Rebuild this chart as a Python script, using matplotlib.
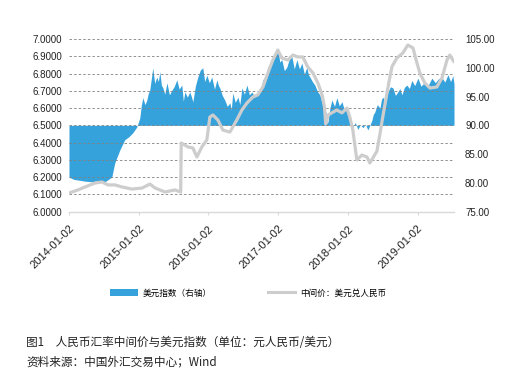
import pandas as pd
import matplotlib
matplotlib.use('Agg')
import matplotlib.pyplot as plt
from matplotlib.patches import Patch
from matplotlib.lines import Line2D


# 美元指数 (right axis)
usd_dates = ['2014-01-02', '2014-01-28', '2014-02-18', '2014-03-27', '2014-05-02',
             '2014-06-07', '2014-07-09', '2014-08-14', '2014-08-30', '2014-09-25',
             '2014-10-21', '2014-11-11', '2014-12-02', '2014-12-23', '2015-01-08',
             '2015-01-16', '2015-01-24', '2015-02-04', '2015-02-14', '2015-02-21',
             '2015-03-01', '2015-03-09', '2015-03-17', '2015-03-27', '2015-04-07',
             '2015-04-15', '2015-04-23', '2015-05-01', '2015-05-09', '2015-05-19',
             '2015-05-30', '2015-06-12', '2015-06-25', '2015-07-08', '2015-07-21',
             '2015-08-02', '2015-08-16', '2015-08-24', '2015-09-01', '2015-09-14',
             '2015-09-27', '2015-10-05', '2015-10-13', '2015-10-26', '2015-11-08',
             '2015-11-21', '2015-12-04', '2015-12-14', '2015-12-25', '2016-01-07',
             '2016-01-20', '2016-02-03', '2016-02-16', '2016-02-24', '2016-03-02',
             '2016-03-15', '2016-03-28', '2016-04-10', '2016-04-24', '2016-05-01',
             '2016-05-09', '2016-05-22', '2016-06-05', '2016-06-15', '2016-06-26',
             '2016-07-09', '2016-07-22', '2016-08-04', '2016-08-17', '2016-09-01',
             '2016-09-17', '2016-09-30', '2016-10-14', '2016-10-27', '2016-11-09',
             '2016-11-22', '2016-12-05', '2016-12-18', '2016-12-31', '2017-01-10',
             '2017-01-21', '2017-02-03', '2017-02-16', '2017-03-01', '2017-03-15',
             '2017-03-27', '2017-04-10', '2017-04-23', '2017-05-06', '2017-05-19',
             '2017-06-01', '2017-06-09', '2017-06-17', '2017-06-30', '2017-07-13',
             '2017-07-26', '2017-08-08', '2017-08-20', '2017-09-03', '2017-09-11',
             '2017-09-19', '2017-09-30', '2017-10-10', '2017-10-24', '2017-11-05',
             '2017-11-18', '2017-12-02', '2017-12-15', '2017-12-28', '2018-01-05',
             '2018-01-12', '2018-01-20', '2018-01-28', '2018-02-10', '2018-02-23',
             '2018-03-08', '2018-03-22', '2018-04-03', '2018-04-17', '2018-04-27',
             '2018-05-08', '2018-05-15', '2018-05-23', '2018-06-05', '2018-06-19',
             '2018-06-27', '2018-07-04', '2018-07-18', '2018-07-31', '2018-08-13',
             '2018-08-26', '2018-09-08', '2018-09-21', '2018-10-01', '2018-10-12',
             '2018-10-25', '2018-11-07', '2018-11-20', '2018-12-03', '2018-12-18',
             '2019-01-04', '2019-01-20', '2019-02-09', '2019-02-26', '2019-03-18',
             '2019-04-05', '2019-04-22', '2019-05-10', '2019-05-25', '2019-06-10',
             '2019-06-24', '2019-07-06', '2019-07-12']
usd_index = [81.0, 80.6, 80.5, 80.3, 80.2,
             80.4, 80.2, 81.0, 83.5, 85.7,
             87.5, 88.0, 88.7, 89.7, 91.3,
             93.5, 94.8, 93.6, 94.4, 95.5,
             96.1, 98.0, 100.0, 97.3, 98.4,
             97.6, 99.3, 97.0, 96.5, 95.4,
             97.4, 95.3, 96.1, 96.8, 97.9,
             96.3, 97.0, 94.2, 95.8, 94.9,
             95.8, 95.0, 94.1, 96.8, 98.4,
             99.6, 100.0, 97.6, 98.7, 97.4,
             98.4, 96.3, 97.9, 96.9, 96.5,
             95.2, 94.4, 93.3, 93.9, 92.7,
             95.6, 94.0, 94.9, 93.6, 96.5,
             95.4, 97.0, 95.3, 95.8, 94.9,
             95.8, 96.2, 97.9, 98.6, 100.1,
             101.0, 101.4, 102.6, 103.4, 101.0,
             101.4, 99.5, 100.1, 101.5, 101.9,
             99.8, 101.4, 99.8, 100.8, 98.9,
             100.1, 98.8, 98.4, 97.6, 97.0,
             95.9, 95.3, 93.8, 93.2, 91.8,
             90.4, 93.0, 94.4, 93.3, 94.8,
             93.4, 94.1, 92.6, 93.0, 92.1,
             91.5, 90.3, 89.7, 90.5, 89.3,
             90.1, 89.6, 90.2, 89.2, 90.0,
             90.9, 91.9, 92.3, 93.6, 93.0,
             94.5, 94.9, 94.0, 95.8, 96.7,
             96.5, 95.2, 95.8, 96.4, 95.3,
             96.6, 97.0, 96.4, 97.8, 96.9,
             98.2, 96.8, 97.5, 96.9, 98.2,
             97.4, 98.1, 98.3, 97.5, 98.8,
             97.6, 98.6, 97.2]

# 中间价：美元兑人民币 (left axis)
mid_dates = ['2014-01-02', '2014-02-18', '2014-03-27', '2014-05-18', '2014-06-24',
             '2014-07-25', '2014-08-31', '2014-10-07', '2014-11-28', '2015-01-20',
             '2015-03-02', '2015-03-29', '2015-05-20', '2015-07-11', '2015-08-10',
             '2015-08-13', '2015-09-17', '2015-10-13', '2015-11-03', '2015-11-29',
             '2015-12-25', '2016-01-10', '2016-01-26', '2016-02-21', '2016-03-18',
             '2016-04-24', '2016-05-30', '2016-06-26', '2016-07-22', '2016-08-22',
             '2016-09-17', '2016-10-14', '2016-11-09', '2016-12-05', '2016-12-31',
             '2017-01-21', '2017-02-22', '2017-03-20', '2017-04-15', '2017-05-11',
             '2017-06-06', '2017-07-03', '2017-07-29', '2017-08-20', '2017-09-01',
             '2017-09-08', '2017-09-20', '2017-11-05', '2017-12-02', '2017-12-28',
             '2018-01-12', '2018-01-28', '2018-02-18', '2018-03-16', '2018-04-12',
             '2018-04-27', '2018-05-13', '2018-06-03', '2018-06-19', '2018-07-04',
             '2018-07-20', '2018-08-05', '2018-08-21', '2018-09-16', '2018-10-17',
             '2018-11-12', '2018-12-09', '2018-12-30', '2019-01-14', '2019-02-09',
             '2019-03-08', '2019-04-13', '2019-05-10', '2019-06-05', '2019-06-20',
             '2019-07-12']
mid_rate = [6.108, 6.126, 6.143, 6.166, 6.172,
            6.155, 6.155, 6.143, 6.131, 6.137,
            6.160, 6.137, 6.114, 6.126, 6.114,
            6.398, 6.375, 6.369, 6.317, 6.375,
            6.415, 6.548, 6.560, 6.531, 6.473,
            6.461, 6.531, 6.589, 6.629, 6.664,
            6.676, 6.722, 6.803, 6.878, 6.936,
            6.890, 6.878, 6.907, 6.896, 6.896,
            6.838, 6.803, 6.745, 6.676, 6.610,
            6.508, 6.560, 6.589, 6.572, 6.600,
            6.548, 6.473, 6.299, 6.328, 6.317,
            6.282, 6.311, 6.350, 6.450, 6.550,
            6.650, 6.750, 6.840, 6.890, 6.919,
            6.965, 6.948, 6.861, 6.803, 6.745,
            6.716, 6.722, 6.774, 6.878, 6.907,
            6.867]

tick_labels = ['2014-01-02', '2015-01-02', '2016-01-02', '2017-01-02',
               '2018-01-02', '2019-01-02']

BLUE = '#36a2dc'
GRAY = '#cdcdcd'
TXT = '#222222'
CJK = ['Noto Sans CJK SC', 'DejaVu Sans']


def main() -> None:
    plt.rcParams['font.family'] = ['Liberation Sans', 'DejaVu Sans']

    fig = plt.figure(figsize=(5.27, 3.91), dpi=100)
    ax_l = fig.add_axes([0.1309, 0.4586, 0.7306, 0.4417])
    ax_r = ax_l.twinx()
    ax_l.set_zorder(2)
    ax_r.set_zorder(1)
    ax_l.patch.set_visible(False)

    ud = pd.to_datetime(usd_dates)
    md = pd.to_datetime(mid_dates)

    ax_r.fill_between(ud, usd_index, 90, color=BLUE, linewidth=0)
    ax_l.plot(md, mid_rate, color=GRAY, linewidth=2.3, solid_capstyle='round')

    ax_l.set_ylim(6.0, 7.0)
    ax_r.set_ylim(75, 105)
    ax_l.set_xlim(pd.Timestamp('2014-01-02'), pd.Timestamp('2019-07-12'))

    ax_l.set_yticks([6.0 + 0.1 * i for i in range(11)])
    ax_l.set_yticklabels(['{:.4f}'.format(6.0 + 0.1 * i) for i in range(11)])
    ax_r.set_yticks(list(range(75, 106, 5)))
    ax_r.set_yticklabels(['{:.2f}'.format(v) for v in range(75, 106, 5)])

    ax_l.yaxis.grid(True, color='#808080', linestyle=(0, (3, 2.5)), linewidth=0.6)
    ax_l.xaxis.grid(False)

    for a in (ax_l, ax_r):
        for s in ('top', 'left', 'right'):
            a.spines[s].set_visible(False)
        a.spines['bottom'].set_color('#d9d9d9')
        a.spines['bottom'].set_linewidth(1.0)
        a.tick_params(axis='y', length=0, labelsize=7, labelcolor=TXT)
    ax_l.tick_params(axis='y', pad=5)
    ax_r.tick_params(axis='y', pad=8)
    ax_r.spines['bottom'].set_visible(False)

    ax_l.set_xticks(pd.to_datetime(tick_labels))
    ax_l.set_xticklabels(tick_labels)
    ax_l.tick_params(axis='x', length=2.5, color='#d9d9d9', pad=6,
                     labelsize=8, labelcolor=TXT)
    for lbl in ax_l.get_xticklabels():
        lbl.set_rotation(45)
        lbl.set_ha('right')
        lbl.set_va('top')
        lbl.set_rotation_mode('anchor')

    handles = [Patch(facecolor=BLUE, edgecolor='none'),
               Line2D([], [], color=GRAY, linewidth=2.2)]
    fig.legend(handles, ['美元指数（右轴）', '中间价：美元兑人民币'],
               loc='center left', bbox_to_anchor=(110 / 527, 1 - 293 / 391),
               ncol=2, frameon=False, borderpad=0, borderaxespad=0,
               handlelength=3.2, handleheight=1.0, handletextpad=0.6,
               columnspacing=6.5, prop={'family': CJK, 'size': 6.2})

    fig.text(26 / 527, 1 - 342 / 391, '图1\u3000人民币汇率中间价与美元指数（单位：元人民币/美元）',
             family=CJK, fontsize=8.4, color=TXT, va='center', ha='left')
    fig.text(26 / 527, 1 - 362 / 391, '资料来源：中国外汇交易中心；Wind',
             family=CJK, fontsize=8.4, color=TXT, va='center', ha='left')

    fig.savefig('out.png', dpi=100)


if __name__ == '__main__':
    main()
